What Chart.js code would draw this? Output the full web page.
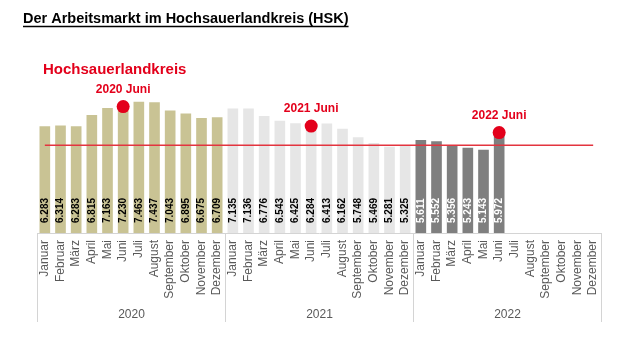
<!DOCTYPE html>
<html><head><meta charset="utf-8">
<script src="https://cdn.jsdelivr.net/npm/chart.js@4"></script>
<style>html,body{margin:0;padding:0;background:#fff}#wrap{width:621px;height:361px}</style>
</head><body><div id="wrap"><canvas id="c" width="621" height="361"></canvas></div>
<script>
const chartTitle = 'Der Arbeitsmarkt im Hochsauerlandkreis (HSK)';
const regionLabel = 'Hochsauerlandkreis';
const months = ['Januar','Februar','März','April','Mai','Juni','Juli','August','September','Oktober','November','Dezember'];
const years = ['2020','2021','2022'];
const values2020 = [6283,6314,6283,6815,7163,7230,7463,7437,7043,6895,6675,6709];
const values2021 = [7135,7136,6776,6543,6425,6284,6413,6162,5748,5469,5281,5325];
const values2022 = [5611,5552,5356,5243,5143,5972,null,null,null,null,null,null];
const highlightMonth = 'Juni';
const referenceLevel = 5360;
const axisMin = 1120;
const axisMax = 8850;

const FONT = '"Liberation Sans", Arial, Helvetica, sans-serif';
const yearColors = ['#c9c394','#e6e6e6','#7f7f7f'];
const valueLabelColors = ['#000000','#000000','#ffffff'];
const RED = '#e3001b';

const seriesByYear = [values2020, values2021, values2022];
const categories = years.flatMap(() => months);
const allValues = seriesByYear.flat();
const barColors = allValues.map((v, i) => yearColors[Math.floor(i / months.length)]);
const hiIdx = months.indexOf(highlightMonth);
const highlightData = allValues.map((v, i) => (i % months.length === hiIdx ? v : null));
const referenceData = categories.map(() => referenceLevel);

function fmt(v){ return String(v).replace(/\B(?=(\d{3})+(?!\d))/g, '.'); }

const deco = {
  id: 'deco',
  afterDatasetsDraw(chart){
    const ctx = chart.ctx, area = chart.chartArea;
    const meta = chart.getDatasetMeta(0);
    ctx.save();
    ctx.font = 'bold 10px ' + FONT;
    meta.data.forEach((bar, i) => {
      const v = allValues[i];
      if (v == null) return;
      ctx.save();
      ctx.translate(bar.x, Math.min(bar.base, area.bottom) - 10);
      ctx.rotate(-Math.PI / 2);
      ctx.textAlign = 'left';
      ctx.textBaseline = 'middle';
      ctx.fillStyle = valueLabelColors[Math.floor(i / months.length)];
      ctx.fillText(fmt(v), 0, 0);
      ctx.restore();
    });
    const dm = chart.getDatasetMeta(2);
    ctx.font = 'bold 12px ' + FONT;
    ctx.fillStyle = RED;
    ctx.textAlign = 'center';
    ctx.textBaseline = 'alphabetic';
    dm.data.forEach((pt, i) => {
      if (highlightData[i] == null) return;
      const yr = years[Math.floor(i / months.length)];
      ctx.fillText(yr + ' ' + highlightMonth, pt.x, pt.y - 14);
    });
    ctx.restore();
  },
  afterDraw(chart){
    const ctx = chart.ctx, xs = chart.scales.x, area = chart.chartArea;
    const pitch = xs.getPixelForValue(1) - xs.getPixelForValue(0);
    ctx.save();
    ctx.strokeStyle = '#d4d4d4';
    ctx.lineWidth = 1;
    const bounds = [];
    for (let k = 0; k <= years.length; k++) {
      const idx = Math.min(k * months.length, categories.length - 1);
      let bx = xs.getPixelForValue(idx) + (k * months.length >= categories.length ? pitch / 2 : -pitch / 2);
      bx = Math.round(bx) + 0.5;
      bounds.push(bx);
      ctx.beginPath();
      ctx.moveTo(bx, area.bottom);
      ctx.lineTo(bx, area.bottom + 89);
      ctx.stroke();
    }
    ctx.fillStyle = '#595959';
    ctx.font = '12px ' + FONT;
    ctx.textAlign = 'center';
    ctx.textBaseline = 'middle';
    years.forEach((y, k) => ctx.fillText(y, (bounds[k] + bounds[k + 1]) / 2, area.bottom + 82));
    ctx.fillStyle = '#000';
    ctx.font = 'bold 14.5px ' + FONT;
    ctx.textAlign = 'left';
    ctx.textBaseline = 'alphabetic';
    ctx.fillText(chartTitle, 23, 23);
    const w = ctx.measureText(chartTitle).width;
    ctx.strokeStyle = '#000';
    ctx.lineWidth = 1.3;
    ctx.beginPath();
    ctx.moveTo(23, 26.5);
    ctx.lineTo(23 + w, 26.5);
    ctx.stroke();
    ctx.fillStyle = RED;
    ctx.font = 'bold 15px ' + FONT;
    ctx.fillText(regionLabel, 43, 74);
    ctx.restore();
  }
};

new Chart(document.getElementById('c'), {
  data: {
    labels: categories,
    datasets: [
      { type: 'bar', data: allValues, base: axisMin, backgroundColor: barColors, borderWidth: 0,
        categoryPercentage: 1, barPercentage: 0.68, order: 3 },
      { type: 'line', data: referenceData, borderColor: '#e3343f', borderWidth: 1.5,
        pointRadius: 0, fill: false, order: 2 },
      { type: 'line', data: highlightData, showLine: false, pointRadius: 6.5,
        pointBackgroundColor: RED, pointBorderColor: RED, pointBorderWidth: 0, order: 1 }
    ]
  },
  options: {
    responsive: false,
    devicePixelRatio: 1,
    animation: false,
    layout: { padding: { left: 37, right: 20, top: 73, bottom: 40 } },
    plugins: { legend: { display: false }, tooltip: { enabled: false }, title: { display: false } },
    scales: {
      x: {
        type: 'category',
        afterFit(scale){ scale.height = 88; },
        grid: { display: true, drawOnChartArea: false, drawTicks: false, color: 'rgba(0,0,0,0)' },
        border: { display: true, color: '#d4d4d4', width: 1 },
        ticks: { autoSkip: false, maxRotation: 90, minRotation: 90, padding: 7,
          color: '#595959', font: { size: 12, family: FONT } }
      },
      y: { display: false, min: axisMin, max: axisMax }
    }
  },
  plugins: [deco]
});
</script>
</body></html>
